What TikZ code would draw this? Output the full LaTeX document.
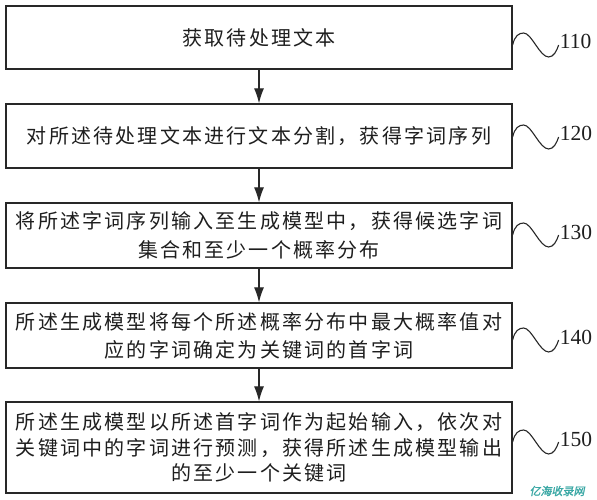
\documentclass[tikz,border=0pt]{standalone}
\usepackage{fontspec}
\usetikzlibrary{arrows.meta,calc}
\newfontfamily\cjkfont[LetterSpace=11]{Noto Sans CJK SC}
\newfontfamily\wmfont[FakeSlant=0.2,FakeBold=1.5]{Noto Sans CJK SC}
\newfontfamily\numfont{Liberation Serif}
\definecolor{lineclr}{RGB}{40,40,40}
\definecolor{txtclr}{RGB}{30,30,30}
\definecolor{wmclr}{RGB}{58,168,165}
\tikzset{
  stepbox/.style={draw=lineclr, line width=1.3pt, rectangle, minimum width=506pt,
    inner sep=0pt, align=center, text=txtclr, font=\cjkfont\fontsize{20}{29}\selectfont},
  flowarrow/.style={draw=lineclr, line width=1.2pt, -{Latex[length=15pt,width=10pt]}},
  numlabel/.style={anchor=base west, inner sep=0pt, text=txtclr, font=\numfont\fontsize{21.5}{24}\selectfont},
  squig/.pic={\draw[lineclr, line width=1.1pt] (0,0) .. controls (2,-9) and (6,-12) .. (11,-12)
     .. controls (19,-12) and (27,12) .. (36,12) .. controls (41,12) and (44,6) .. (46,0);}
}
\begin{document}
\begin{tikzpicture}[x=1pt,y=-1pt]
\useasboundingbox (0,0) rectangle (597,500);
\fill[white] (0,0) rectangle (597,500);

\node[stepbox, minimum height=63pt] (b1) at (259,37.5) {获取待处理文本};
\node[stepbox, minimum height=64pt] (b2) at (259,136) {对所述待处理文本进行文本分割，获得字词序列};
\node[stepbox, minimum height=65pt] (b3) at (259,235.5) {将所述字词序列输入至生成模型中，获得候选字词\\集合和至少一个概率分布};
\node[stepbox, minimum height=65pt, font=\cjkfont\fontsize{20}{28}\selectfont] (b4) at (259,335.5) {所述生成模型将每个所述概率分布中最大概率值对\\应的字词确定为关键词的首字词};
\node[stepbox, minimum height=91pt, font=\cjkfont\fontsize{20}{25.5}\selectfont] (b5) at (259,447.5) {所述生成模型以所述首字词作为起始输入，依次对\\关键词中的字词进行预测，获得所述生成模型输出\\的至少一个关键词};

\draw[flowarrow] (b1.south) -- (b2.north);
\draw[flowarrow] (b2.south) -- (b3.north);
\draw[flowarrow] (b3.south) -- (b4.north);
\draw[flowarrow] (b4.south) -- (b5.north);

\pic at ($(b1.east)+(0,7.5)$) {squig};
\node[numlabel] (n110) at ($(b1.east)+(47,11.5)$) {110};
\pic at ($(b2.east)+(0,1)$) {squig};
\node[numlabel] (n120) at ($(b2.east)+(47,5)$) {120};
\pic at ($(b3.east)+(0,-0.5)$) {squig};
\node[numlabel] (n130) at ($(b3.east)+(47,4)$) {130};
\pic at ($(b4.east)+(0,4.5)$) {squig};
\node[numlabel] (n140) at ($(b4.east)+(47,8.5)$) {140};
\pic at ($(b5.east)+(0,-5.5)$) {squig};
\node[numlabel] (n150) at ($(b5.east)+(47,-1.5)$) {150};

\node[text=wmclr, inner sep=0pt, font=\wmfont\fontsize{11}{12}\selectfont] (wm) at (557,491) {亿海收录网};
\end{tikzpicture}
\end{document}
